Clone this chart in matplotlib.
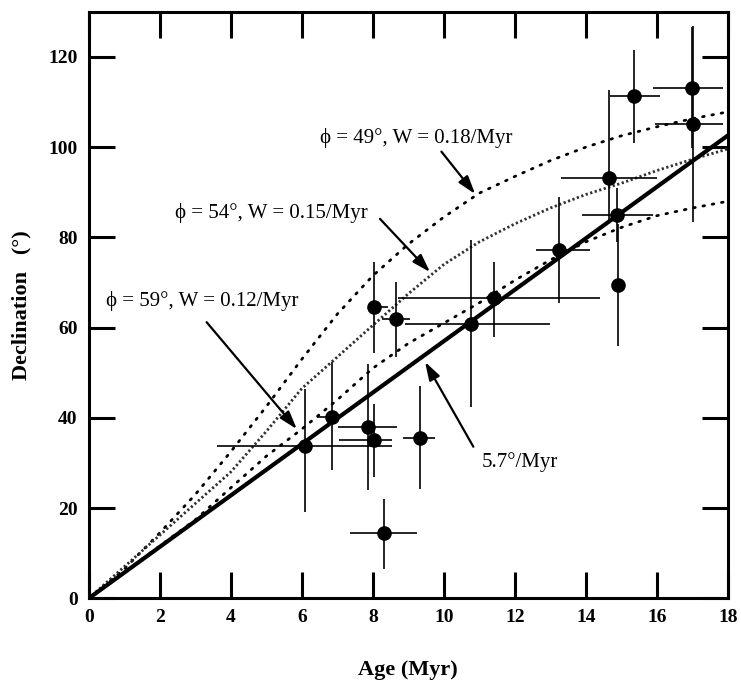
import numpy as np
import matplotlib
matplotlib.use("Agg")
import matplotlib.pyplot as plt

plt.rcParams["font.family"] = ["Liberation Serif", "DejaVu Serif"]

# paleomagnetic sites
age = [15.34, 14.66, 14.86, 14.91, 16.98, 17.0, 13.25, 8.04, 8.65, 11.42,
       10.76, 6.08, 6.86, 7.85, 8.03, 9.32, 8.31]
dec = [111.3, 93.1, 85.0, 69.5, 113.1, 105.1, 77.2, 64.5, 62.0, 66.5,
       60.8, 33.7, 40.2, 38.0, 35.2, 35.6, 14.5]
age_lo = [14.68, 13.3, 13.9, 14.91, 15.9, 15.95, 12.6, 7.86, 8.25, 8.7,
          8.9, 3.6, 6.42, 7.02, 7.04, 8.85, 7.35]
age_hi = [16.08, 16.0, 15.9, 14.91, 17.86, 17.86, 14.1, 8.42, 9.04, 14.4,
          13.0, 8.53, 7.07, 8.67, 8.53, 9.75, 9.23]
dec_lo = [100.9, 83.2, 79.0, 56.0, 99.7, 83.4, 65.4, 54.3, 53.5, 58.0,
          42.4, 19.1, 28.4, 24.0, 27.0, 24.3, 6.6]
dec_hi = [121.6, 112.7, 91.0, 83.0, 126.5, 126.8, 89.0, 74.6, 70.2, 74.6,
          79.4, 46.5, 52.4, 52.0, 43.0, 47.0, 22.1]

# model curves
model_age = list(range(0, 19))
dec_49 = [0, 6.5, 14.5, 23, 32.5, 42.5, 53, 63, 71.5, 78.5, 84.5, 89.8,
          93.5, 97, 100, 102.5, 104.5, 106.3, 107.8]
dec_54 = [0, 7, 14, 21, 28, 37, 46.5, 53.5, 60.5, 67.5, 74, 79, 83, 86.5,
          89.5, 92, 94.8, 97.3, 99.6]
dec_59 = [0, 5.8, 11.6, 17.4, 24.5, 31.5, 37.5, 44, 51, 56.5, 61, 65.5,
          70.5, 75, 79, 82.2, 84.8, 86.5, 88]
line_age = [0, 18]
line_dec = [0, 102.6]

fig = plt.figure(figsize=(7.41, 6.83), dpi=100)
ax = fig.add_axes([0.1197, 0.1239, 0.8628, 0.859])

ax.plot(model_age, dec_49, color="black", lw=2.0, linestyle=(0, (0.6, 2.8)),
        dash_capstyle="round")
ax.plot(model_age, dec_54, color="#303030", lw=2.0, linestyle=(0, (0.8, 0.9)))
ax.plot(model_age, dec_59, color="black", lw=2.0, linestyle=(0, (0.6, 2.8)),
        dash_capstyle="round")
ax.plot(line_age, line_dec, color="black", lw=3.0)

a = np.array(age)
d = np.array(dec)
xerr = [a - np.array(age_lo), np.array(age_hi) - a]
yerr = [d - np.array(dec_lo), np.array(dec_hi) - d]
ax.errorbar(a, d, xerr=xerr, yerr=yerr, fmt="o", color="black", ms=9.5,
            elinewidth=1.2, capsize=0, zorder=5)

arrow = dict(arrowstyle="-|>,head_length=1.1,head_width=0.35", color="black",
             lw=1.6, shrinkA=0, shrinkB=0)
ax.annotate("", xy=(10.88, 89.6), xytext=(9.93, 99.0), arrowprops=arrow)
ax.annotate("", xy=(9.61, 72.3), xytext=(8.2, 84.1), arrowprops=arrow)
ax.annotate("", xy=(5.86, 37.5), xytext=(3.32, 61.2), arrowprops=arrow)
ax.annotate("", xy=(9.47, 52.4), xytext=(10.83, 33.6), arrowprops=arrow)

tfont = dict(fontsize=15, va="center", ha="left")
ax.text(6.5, 102.1, "\u03d5 = 49\u00b0, W = 0.18/Myr", **tfont)
ax.text(2.43, 85.5, "\u03d5 = 54\u00b0, W = 0.15/Myr", **tfont)
ax.text(0.5, 66.0, "\u03d5 = 59\u00b0, W = 0.12/Myr", **tfont)
ax.text(11.07, 30.2, "5.7\u00b0/Myr", **tfont)

ax.set_xlim(0, 18)
ax.set_ylim(0, 130)
ax.set_xticks(range(0, 19, 2))
ax.set_yticks(range(0, 121, 20))
ax.tick_params(direction="in", length=19, width=2.2, top=True, right=True,
               labelsize=14, pad=8)
for lab in ax.get_xticklabels() + ax.get_yticklabels():
    lab.set_fontweight("bold")
for s in ax.spines.values():
    s.set_linewidth(2.2)

ax.set_xlabel("Age (Myr)", fontsize=16, fontweight="bold", labelpad=24)
ax.set_ylabel("Declination   (\u00b0)", fontsize=16, fontweight="bold",
              labelpad=12)

fig.savefig("out.png", dpi=100)
